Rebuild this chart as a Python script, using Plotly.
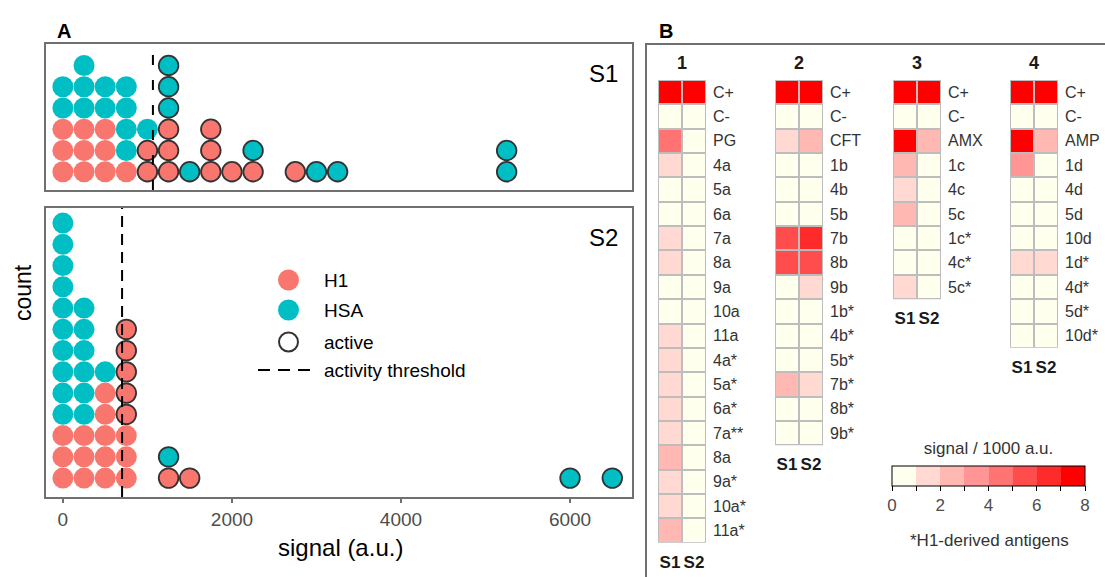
import plotly.graph_objects as go

W, H = 1105, 577
FONT = "Liberation Sans, Arial, sans-serif"


def px(x):
    return x / W


def py(y):
    return 1 - y / H


# ---------------- Panel A data (signal binned to 250 a.u., listed bottom-to-top per stack)
s1_signal = [0, 0, 0, 0, 0,
             250, 250, 250, 250, 250, 250,
             500, 500, 500, 500, 500,
             750, 750, 750, 750, 750,
             1000, 1000, 1000,
             1250, 1250, 1250, 1250, 1250, 1250,
             1500,
             1750, 1750, 1750,
             2000,
             2250, 2250,
             2750, 3000, 3250,
             5250, 5250]
s1_antigen = ["H1", "H1", "H1", "HSA", "HSA",
              "H1", "H1", "H1", "HSA", "HSA", "HSA",
              "H1", "H1", "H1", "HSA", "HSA",
              "H1", "HSA", "HSA", "HSA", "HSA",
              "H1", "H1", "HSA",
              "H1", "H1", "H1", "HSA", "HSA", "HSA",
              "HSA",
              "H1", "H1", "H1",
              "H1",
              "H1", "HSA",
              "H1", "HSA", "HSA",
              "HSA", "HSA"]
s1_active = [0, 0, 0, 0, 0,
             0, 0, 0, 0, 0, 0,
             0, 0, 0, 0, 0,
             0, 0, 0, 0, 0,
             1, 1, 0,
             1, 1, 1, 1, 1, 1,
             1,
             1, 1, 1,
             1,
             1, 1,
             1, 1, 1,
             1, 1]

s2_signal = [0, 0, 0, 0, 0, 0, 0, 0, 0, 0, 0, 0, 0,
             250, 250, 250, 250, 250, 250, 250, 250, 250,
             500, 500, 500, 500, 500, 500,
             750, 750, 750, 750, 750, 750, 750, 750,
             1250, 1250,
             1500,
             6000, 6500]
s2_antigen = ["H1", "H1", "H1", "HSA", "HSA", "HSA", "HSA", "HSA", "HSA", "HSA", "HSA", "HSA", "HSA",
              "H1", "H1", "H1", "HSA", "HSA", "HSA", "HSA", "HSA", "HSA",
              "H1", "H1", "H1", "H1", "H1", "HSA",
              "H1", "H1", "H1", "H1", "H1", "H1", "H1", "H1",
              "H1", "HSA",
              "H1",
              "HSA", "HSA"]
s2_active = [0, 0, 0, 0, 0, 0, 0, 0, 0, 0, 0, 0, 0,
             0, 0, 0, 0, 0, 0, 0, 0, 0,
             0, 0, 0, 0, 0, 0,
             0, 0, 0, 1, 1, 1, 1, 1,
             1, 1,
             1,
             1, 1]

thresholds = [1065, 700]
x_ticks = [0, 2000, 4000, 6000]

# ---------------- Panel B data (signal / 1000 a.u.)
g1_labels = ["C+", "C-", "PG", "4a", "5a", "6a", "7a", "8a", "9a", "10a", "11a",
             "4a*", "5a*", "6a*", "7a**", "8a", "9a*", "10a*", "11a*"]
g1_s1 = [7.6, 0.3, 4.5, 1.5, 0.3, 0.3, 1.5, 1.5, 0.3, 0.3, 1.5,
         1.5, 1.5, 1.5, 1.5, 2.5, 1.5, 1.5, 2.5]
g1_s2 = [7.6, 0.3, 0.3, 0.3, 0.3, 0.3, 0.3, 0.3, 0.3, 0.3, 0.3,
         0.3, 0.3, 0.3, 0.3, 0.3, 0.3, 0.3, 0.3]

g2_labels = ["C+", "C-", "CFT", "1b", "4b", "5b", "7b", "8b", "9b",
             "1b*", "4b*", "5b*", "7b*", "8b*", "9b*"]
g2_s1 = [7.6, 0.3, 1.5, 0.3, 0.3, 0.3, 5.5, 5.5, 0.3, 0.3, 0.3, 0.3, 2.5, 0.3, 0.3]
g2_s2 = [7.6, 0.3, 2.5, 0.3, 0.3, 0.3, 6.5, 5.5, 1.5, 0.3, 0.3, 0.3, 1.5, 0.3, 0.3]

g3_labels = ["C+", "C-", "AMX", "1c", "4c", "5c", "1c*", "4c*", "5c*"]
g3_s1 = [7.6, 0.3, 7.6, 2.5, 1.5, 2.5, 0.3, 0.3, 1.5]
g3_s2 = [7.6, 0.3, 2.5, 0.3, 0.3, 0.3, 0.3, 0.3, 0.3]

g4_labels = ["C+", "C-", "AMP", "1d", "4d", "5d", "10d", "1d*", "4d*", "5d*", "10d*"]
g4_s1 = [7.6, 0.3, 7.6, 3.5, 0.3, 0.3, 0.3, 1.5, 0.3, 0.3, 0.3]
g4_s2 = [7.6, 0.3, 2.5, 0.3, 0.3, 0.3, 0.3, 1.5, 0.3, 0.3, 0.3]

group_names = ["1", "2", "3", "4"]
samples = ["S1", "S2"]
cbar_ticks = [0, 1, 2, 3, 4, 5, 6, 7, 8]
step_colors = ["#FFFFEE", "#FFD9D2", "#FFB8B2", "#FF9595", "#FF7373",
               "#FF4C4C", "#FF2A2A", "#FF0000"]

RED = "#F8766D"
CYAN = "#00BFC4"
BOX = "#707070"

fig = go.Figure()


def stack_y(signal):
    seen = {}
    ys = []
    for s in signal:
        k = seen.get(s, 0)
        ys.append(k + 0.5)
        seen[s] = k + 1
    return ys


for idx, (sig, ant, act) in enumerate([(s1_signal, s1_antigen, s1_active),
                                       (s2_signal, s2_antigen, s2_active)]):
    ys = stack_y(sig)
    ax = "" if idx == 0 else "2"
    for a_flag in (0, 1):
        for antigen, col in (("H1", RED), ("HSA", CYAN)):
            xs = [s for s, a, f in zip(sig, ant, act) if a == antigen and f == a_flag]
            yy = [y for y, a, f in zip(ys, ant, act) if a == antigen and f == a_flag]
            if not xs:
                continue
            fig.add_trace(go.Scatter(
                x=xs, y=yy, mode="markers", xaxis="x" + ax, yaxis="y" + ax,
                showlegend=False, hoverinfo="skip",
                marker=dict(color=col, size=19.6 if a_flag else 21,
                            line=dict(color="#333333", width=1.8 if a_flag else 0))))

# heatmaps
groups = [(g1_labels, g1_s1, g1_s2), (g2_labels, g2_s1, g2_s2),
          (g3_labels, g3_s1, g3_s2), (g4_labels, g4_s1, g4_s2)]
for i, (labs, a, b) in enumerate(groups):
    n = len(labs)
    fig.add_trace(go.Heatmap(
        z=[[a[r], b[r]] for r in range(n)], x=[0, 1], y=list(range(n)),
        coloraxis="coloraxis", xgap=2, ygap=2, hoverinfo="skip",
        xaxis="x%d" % (i + 3), yaxis="y%d" % (i + 3)))

cs = []
for k, c in enumerate(step_colors):
    cs.append([k / 8, c])
    cs.append([(k + 1) / 8, c])

layout = dict(
    width=W, height=H, autosize=False, template="none",
    margin=dict(l=0, r=0, t=0, b=0, pad=0),
    paper_bgcolor="white", plot_bgcolor="white",
    font=dict(family=FONT, color="black"),
    showlegend=False,
    coloraxis=dict(
        colorscale=cs, cmin=0, cmax=8,
        colorbar=dict(
            orientation="h", x=px(988.5), xanchor="center", y=py(447), yanchor="top",
            len=193, lenmode="pixels", thickness=20, thicknessmode="pixels",
            outlinecolor="black", outlinewidth=1, xpad=0, ypad=0,
            ticks="outside", ticklen=5, tickcolor="black", tickwidth=1.2,
            tickvals=cbar_ticks,
            ticktext=[str(t) if t % 2 == 0 else "" for t in cbar_ticks],
            tickfont=dict(size=17, color="#4d4d4d", family=FONT),
            title=dict(text="signal / 1000 a.u.", side="top",
                       font=dict(size=17, color="#333333", family=FONT)))),
)

xr = [-200, 6733]
common_x = dict(range=xr, showline=True, mirror=True, linecolor=BOX, linewidth=2,
                showgrid=False, zeroline=False, domain=[px(46), px(632)])
layout["xaxis"] = dict(common_x, anchor="y", showticklabels=False, ticks="")
layout["yaxis"] = dict(range=[-0.36, 6.51], domain=[py(190), py(44)], anchor="x",
                       showline=True, mirror=True, linecolor=BOX, linewidth=2,
                       showgrid=False, zeroline=False, showticklabels=False, ticks="")
layout["xaxis2"] = dict(common_x, anchor="y2", tickvals=x_ticks, ticks="outside",
                        ticklen=4, tickwidth=1.5, tickcolor=BOX,
                        tickfont=dict(size=19, color="#4d4d4d", family=FONT),
                        ticklabelstandoff=0)
layout["yaxis2"] = dict(range=[-0.39, 13.21], domain=[py(497), py(208)], anchor="x2",
                        showline=True, mirror=True, linecolor=BOX, linewidth=2,
                        showgrid=False, zeroline=False, showticklabels=False, ticks="")

lefts = [658, 775, 893, 1010]
top = 80
rowh = 24.35
shapes = []
annotations = []
for i, (labs, a, b) in enumerate(groups):
    n = len(labs)
    k = i + 3
    layout["xaxis%d" % k] = dict(domain=[px(lefts[i]), px(lefts[i] + 48)], range=[-0.5, 1.5],
                                 anchor="y%d" % k, showgrid=False, zeroline=False,
                                 showline=False, ticks="", tickvals=[0, 1],
                                 ticktext=["<b>%s</b>" % s for s in samples],
                                 tickfont=dict(size=17, color="#1a1a1a", family=FONT),
                                 ticklabelstandoff=7)
    layout["yaxis%d" % k] = dict(domain=[py(top + n * rowh), py(top)], range=[n - 0.5, -0.5],
                                 anchor="x%d" % k, side="right", showgrid=False,
                                 zeroline=False, showline=False, ticks="",
                                 tickvals=list(range(n)), ticktext=labs,
                                 tickfont=dict(size=16, color="#333333", family=FONT),
                                 ticklabelstandoff=6)
    shapes.append(dict(type="rect", xref="x%d domain" % k, yref="y%d domain" % k,
                       x0=0, x1=1, y0=0, y1=1, fillcolor="#bdbdbd",
                       line=dict(width=0), layer="below"))
    annotations.append(dict(text="<b>%s</b>" % group_names[i], xref="x%d domain" % k,
                            x=0.5, yref="paper", y=py(63), showarrow=False,
                            font=dict(size=18, color="#1a1a1a", family=FONT),
                            xanchor="center", yanchor="middle"))

# threshold lines
shapes.append(dict(type="line", xref="x", yref="y domain", x0=thresholds[0], x1=thresholds[0],
                   y0=0, y1=1, line=dict(color="black", width=2, dash="10px,15px"), layer="above"))
shapes.append(dict(type="line", xref="x2", yref="y2 domain", x0=thresholds[1], x1=thresholds[1],
                   y0=0, y1=1, line=dict(color="black", width=2, dash="11px,7px"), layer="above"))

# panel B frame
shapes.append(dict(type="rect", xref="paper", yref="paper", x0=px(646), x1=px(1120),
                   y0=py(600), y1=py(44), line=dict(color=BOX, width=2), fillcolor="rgba(0,0,0,0)"))

# legend keys
r = 10.5
for (cy, fill, lw) in [(280, RED, 0), (310, CYAN, 0), (342, "rgba(0,0,0,0)", 2)]:
    rr = r if lw == 0 else r - 1
    shapes.append(dict(type="circle", xref="paper", yref="paper",
                       x0=px(288.5 - rr), x1=px(288.5 + rr), y0=py(cy + rr), y1=py(cy - rr),
                       fillcolor=fill, line=dict(color="#333333", width=lw)))
shapes.append(dict(type="line", xref="paper", yref="paper", x0=px(258), x1=px(312),
                   y0=py(370), y1=py(370), line=dict(color="black", width=2, dash="12px,8px")))

for txt, cy in [("H1", 280), ("HSA", 310), ("active", 342), ("activity threshold", 370)]:
    annotations.append(dict(text=txt, xref="paper", yref="paper", x=px(322), y=py(cy),
                            xanchor="left", yanchor="middle", showarrow=False,
                            font=dict(size=19, color="black", family=FONT)))


def centered(text, x, y, size, color="black", angle=0):
    return dict(text=text, xref="paper", yref="paper", x=px(x), y=py(y), showarrow=False,
                xanchor="center", yanchor="middle", textangle=angle,
                font=dict(size=size, color=color, family=FONT))


annotations += [
    centered("S1", 603, 73, 24),
    centered("S2", 603, 237, 24),
    centered("<b>A</b>", 63.5, 31, 20),
    centered("<b>B</b>", 666, 31, 20),
    centered("count", 23, 293, 23, angle=-90),
    centered("signal (a.u.)", 340, 547, 24),
    centered("*H1-derived antigens", 989, 540, 17, "#333333"),
]

layout["shapes"] = shapes
layout["annotations"] = annotations
fig.update_layout(**layout)

fig.write_html("out.html", config={"displayModeBar": False},
               post_script="document.body.style.margin='0';")
